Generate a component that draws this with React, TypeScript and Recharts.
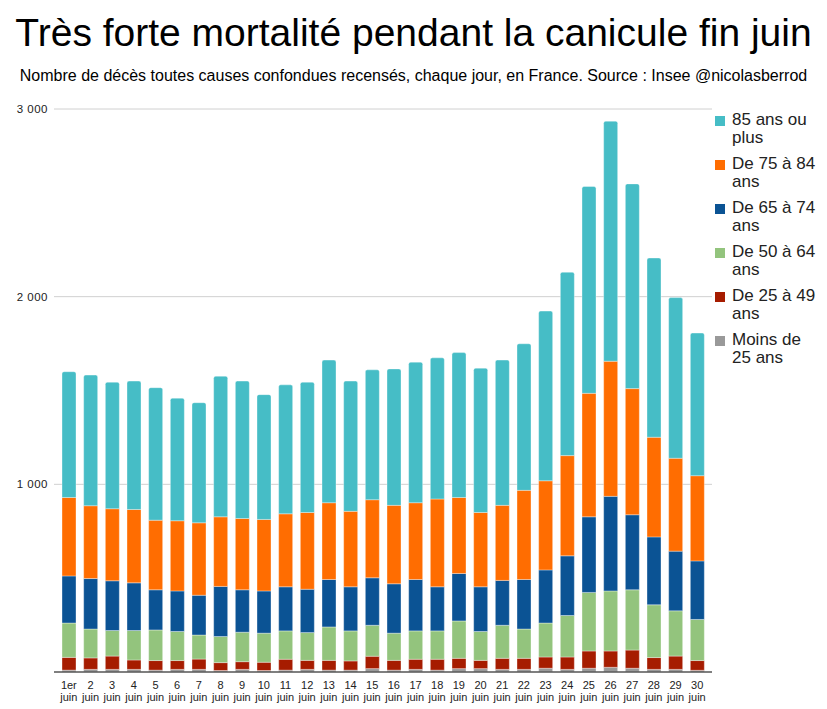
import React from "react";
import { Bar, BarChart, CartesianGrid, XAxis, YAxis } from "recharts";

const FONT = '"Liberation Sans", Arial, sans-serif';

const days = [
  "1er", "2", "3", "4", "5", "6", "7", "8", "9", "10",
  "11", "12", "13", "14", "15", "16", "17", "18", "19", "20",
  "21", "22", "23", "24", "25", "26", "27", "28", "29", "30",
];

// décès par tranche d'âge
const moins25 = [10, 14, 14, 14, 10, 14, 14, 8, 14, 8, 10, 14, 10, 10, 18, 10, 14, 10, 18, 18, 14, 14, 20, 14, 20, 25, 20, 14, 14, 9];
const de25a49 = [68, 61, 71, 50, 51, 47, 55, 42, 41, 44, 58, 48, 52, 49, 66, 52, 54, 58, 55, 44, 59, 59, 60, 66, 92, 87, 97, 63, 71, 52];
const de50a64 = [183, 154, 136, 157, 163, 155, 128, 139, 157, 155, 151, 148, 178, 160, 165, 145, 151, 151, 199, 154, 176, 156, 181, 221, 312, 320, 321, 281, 241, 219];
const de65a74 = [251, 269, 265, 254, 214, 216, 212, 267, 226, 225, 235, 231, 253, 235, 253, 263, 274, 235, 253, 238, 239, 264, 283, 318, 403, 504, 400, 362, 318, 312];
const de75a84 = [418, 388, 384, 391, 371, 374, 386, 371, 380, 381, 389, 409, 409, 402, 416, 418, 409, 468, 405, 396, 400, 475, 475, 534, 658, 720, 672, 531, 495, 454];
const plus85 = [670, 696, 674, 684, 706, 653, 640, 749, 732, 665, 687, 694, 760, 694, 692, 727, 749, 752, 772, 769, 774, 781, 904, 977, 1102, 1279, 1091, 955, 856, 760];

const yTicks = [1000, 2000, 3000];

const series = [
  { key: "moins25", label: ["Moins de", "25 ans"], color: "#999999", values: moins25 },
  { key: "de25a49", label: ["De 25 à 49", "ans"], color: "#a61c00", values: de25a49 },
  { key: "de50a64", label: ["De 50 à 64", "ans"], color: "#93c47d", values: de50a64 },
  { key: "de65a74", label: ["De 65 à 74", "ans"], color: "#0b5394", values: de65a74 },
  { key: "de75a84", label: ["De 75 à 84", "ans"], color: "#ff6d01", values: de75a84 },
  { key: "plus85", label: ["85 ans ou", "plus"], color: "#46bdc6", values: plus85 },
];

const data = days.map((d, i) => {
  const row: Record<string, string | number> = { day: d };
  series.forEach((s) => {
    row[s.key] = s.values[i];
  });
  return row;
});

const fmt = (v: number) => String(v).replace(/\B(?=(\d{3})+(?!\d))/g, " ");

function DayTick({ x, y, payload }: any) {
  return (
    <text x={x} y={y} textAnchor="middle" fontSize={11} fill="#222" fontFamily={FONT}>
      <tspan x={x} dy={9}>{payload.value}</tspan>
      <tspan x={x} dy={11.5}>juin</tspan>
    </text>
  );
}

function SideLegend() {
  const items = [...series].reverse();
  return (
    <div
      style={{
        position: "absolute",
        top: 111,
        left: 715,
        width: 112,
        fontFamily: FONT,
        fontSize: 17,
        lineHeight: "17.5px",
        color: "#222",
      }}
    >
      {items.map((s) => (
        <div key={s.key} style={{ position: "relative", paddingLeft: 17, marginBottom: 9.1 }}>
          <span
            style={{
              position: "absolute",
              left: 0,
              top: 4.5,
              width: 10,
              height: 10,
              background: s.color,
            }}
          />
          <div>{s.label[0]}</div>
          <div>{s.label[1]}</div>
        </div>
      ))}
    </div>
  );
}

export default function App() {
  return (
    <div
      style={{
        position: "absolute",
        left: 0,
        top: 0,
        width: 827,
        height: 709,
        background: "#fff",
        fontFamily: FONT,
      }}
    >
      <div
        style={{
          position: "absolute",
          top: 10,
          left: 0,
          width: 827,
          textAlign: "center",
          fontSize: 39,
          lineHeight: "46px",
          color: "#000",
        }}
      >
        Très forte mortalité pendant la canicule fin juin
      </div>
      <div
        style={{
          position: "absolute",
          top: 67,
          left: 0,
          width: 827,
          textAlign: "center",
          fontSize: 16,
          lineHeight: "18px",
          color: "#000",
        }}
      >
        Nombre de décès toutes causes confondues recensés, chaque jour, en France. Source : Insee @nicolasberrod
      </div>
      <BarChart
        width={827}
        height={709}
        data={data}
        margin={{ top: 109, right: 115, bottom: 7, left: 0 }}
        barSize={14}
      >
        <CartesianGrid vertical={false} stroke="#d0d0d0" horizontalValues={yTicks} />
        <XAxis
          dataKey="day"
          interval={0}
          tick={<DayTick />}
          tickLine={false}
          axisLine={{ stroke: "#555", strokeWidth: 1.5 }}
          padding={{ left: 4, right: 4 }}
          height={30}
        />
        <YAxis
          width={54}
          domain={[0, 3000]}
          ticks={yTicks}
          tickFormatter={fmt}
          axisLine={false}
          tickLine={false}
          tickSize={4}
          tickMargin={2}
          tick={{ fontSize: 11.5, fill: "#222", fontFamily: FONT, letterSpacing: 0.5 }}
        />
        {series.map((s, i) => (
          <Bar
            key={s.key}
            dataKey={s.key}
            stackId="a"
            fill={s.color}
            stroke="#ffffff"
            strokeOpacity={0.35}
            strokeWidth={1}
            radius={i === series.length - 1 ? [2, 2, 0, 0] : 0}
            isAnimationActive={false}
          />
        ))}
      </BarChart>
      <SideLegend />
    </div>
  );
}
